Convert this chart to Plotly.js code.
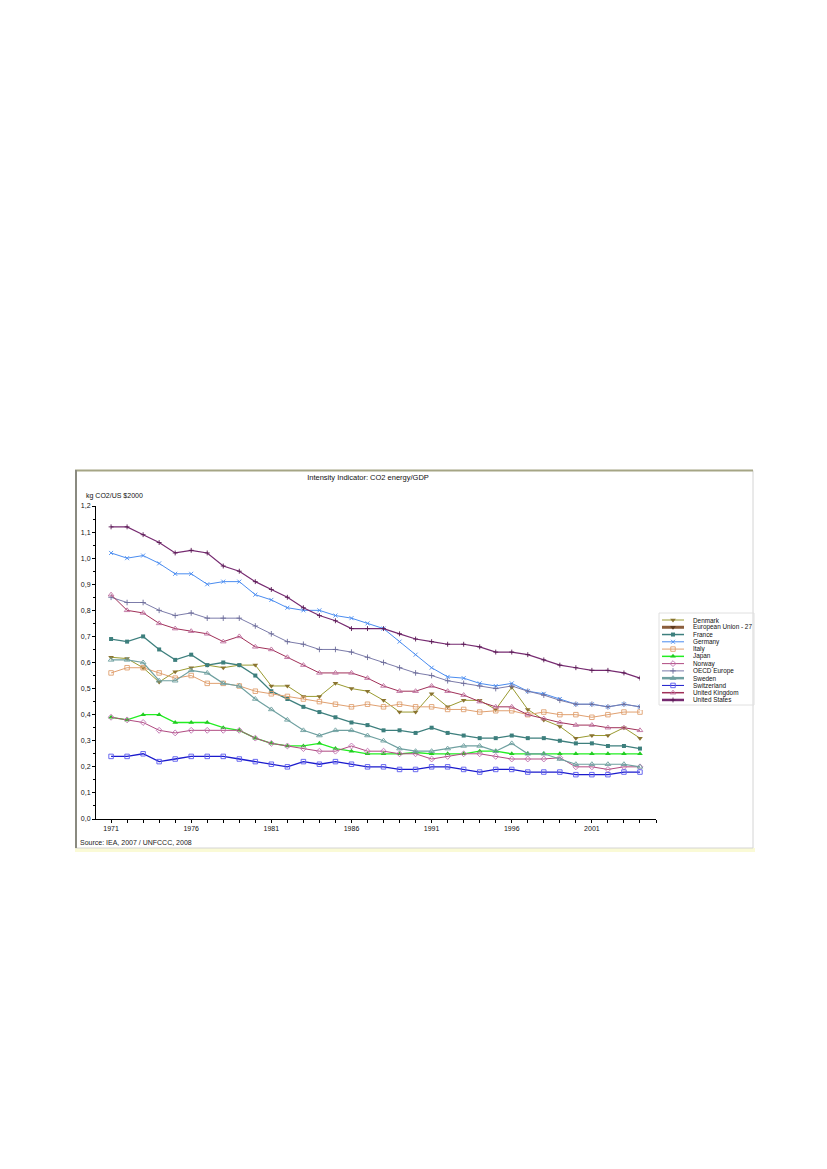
<!DOCTYPE html>
<html><head><meta charset="utf-8">
<script src="https://cdn.plot.ly/plotly-3.0.1.min.js"></script>
<style>html,body{margin:0;padding:0;background:#fff;} #chart{width:827px;height:1169px;}</style>
</head><body><div id="chart"></div>
<script>
// ---------------- DATA ----------------
const years = [1971,1972,1973,1974,1975,1976,1977,1978,1979,1980,
               1981,1982,1983,1984,1985,1986,1987,1988,1989,1990,
               1991,1992,1993,1994,1995,1996,1997,1998,1999,2000,
               2001,2002,2003,2004];
const xTickYears = [1971,1976,1981,1986,1991,1996,2001];
const xTickLabels = ['1971','1976','1981','1986','1991','1996','2001'];

const denmark = [0.62,0.615,0.58,0.525,0.565,0.58,0.59,0.58,0.59,0.59,
                 0.51,0.51,0.47,0.47,0.52,0.50,0.49,0.455,0.41,0.41,
                 0.48,0.43,0.455,0.455,0.42,0.505,0.42,0.38,0.355,0.31,
                 0.32,0.32,0.35,0.31];
const eu27 = [null,null,null,null,null,null,null,null,null,null,
              null,null,null,null,null,null,null,null,null,null,
              null,null,null,null,null,null,null,null,null,null,
              null,null,null,null];
const france = [0.69,0.68,0.70,0.65,0.61,0.63,0.59,0.60,0.59,0.55,
                0.49,0.46,0.43,0.41,0.39,0.37,0.36,0.34,0.34,0.33,
                0.35,0.33,0.32,0.31,0.31,0.32,0.31,0.31,0.30,0.29,
                0.29,0.28,0.28,0.27];
const germany = [1.02,1.00,1.01,0.98,0.94,0.94,0.90,0.91,0.91,0.86,
                 0.84,0.81,0.80,0.80,0.78,0.77,0.75,0.73,0.68,0.63,
                 0.58,0.545,0.54,0.52,0.51,0.52,0.49,0.48,0.46,0.44,
                 0.44,0.43,0.44,0.43];
const italy = [0.56,0.58,0.58,0.56,0.54,0.55,0.52,0.52,0.51,0.49,
               0.48,0.47,0.46,0.45,0.44,0.43,0.44,0.43,0.44,0.43,
               0.43,0.42,0.42,0.41,0.415,0.415,0.40,0.41,0.40,0.40,
               0.39,0.40,0.41,0.41];
const japan = [0.39,0.38,0.40,0.40,0.37,0.37,0.37,0.35,0.34,0.31,
               0.29,0.28,0.28,0.29,0.27,0.26,0.25,0.25,0.25,0.255,
               0.25,0.25,0.25,0.26,0.26,0.25,0.25,0.25,0.25,0.25,
               0.25,0.25,0.25,0.25];
const norway = [0.39,0.38,0.37,0.34,0.33,0.34,0.34,0.34,0.34,0.31,
                0.29,0.28,0.27,0.26,0.26,0.28,0.26,0.26,0.25,0.25,
                0.23,0.24,0.25,0.25,0.24,0.23,0.23,0.23,0.235,0.20,
                0.20,0.19,0.20,0.20];
const oecdEurope = [0.85,0.83,0.83,0.80,0.78,0.79,0.77,0.77,0.77,0.74,
                    0.71,0.68,0.67,0.65,0.65,0.64,0.62,0.60,0.58,0.56,
                    0.55,0.53,0.52,0.51,0.50,0.51,0.49,0.475,0.455,0.44,
                    0.44,0.43,0.44,0.43];
const sweden = [0.61,0.61,0.60,0.53,0.53,0.57,0.56,0.52,0.51,0.46,
                0.42,0.38,0.34,0.32,0.34,0.34,0.32,0.30,0.27,0.26,
                0.26,0.27,0.28,0.28,0.26,0.29,0.25,0.25,0.23,0.21,
                0.21,0.21,0.21,0.20];
const switzerland = [0.24,0.24,0.25,0.22,0.23,0.24,0.24,0.24,0.23,0.22,
                     0.21,0.20,0.22,0.21,0.22,0.21,0.20,0.20,0.19,0.19,
                     0.20,0.20,0.19,0.18,0.19,0.19,0.18,0.18,0.18,0.17,
                     0.17,0.17,0.18,0.18];
const unitedKingdom = [0.86,0.80,0.79,0.75,0.73,0.72,0.71,0.68,0.70,0.66,
                       0.65,0.62,0.59,0.56,0.56,0.56,0.54,0.51,0.49,0.49,
                       0.51,0.49,0.475,0.45,0.43,0.43,0.40,0.385,0.37,0.36,
                       0.36,0.35,0.35,0.34];
const unitedStates = [1.12,1.12,1.09,1.06,1.02,1.03,1.02,0.97,0.95,0.91,
                      0.88,0.85,0.81,0.78,0.76,0.73,0.73,0.73,0.71,0.69,
                      0.68,0.67,0.67,0.66,0.64,0.64,0.63,0.61,0.59,0.58,
                      0.57,0.57,0.56,0.54];

const seriesNames = ['Denmark','European Union - 27','France','Germany','Italy','Japan',
                     'Norway','OECD Europe','Sweden','Switzerland','United Kingdom','United States'];
const seriesValues = [denmark, eu27, france, germany, italy, japan,
                      norway, oecdEurope, sweden, switzerland, unitedKingdom, unitedStates];

// ---------------- STYLE ----------------
const styles = [
  {c:'#9a9a30', w:1,   sym:'triangle-down',    mc:'#8a7430', s:5,   lw:1},
  {c:'#8b5e3c', w:1.5, sym:'triangle-down',    mc:'#5e3a1e', s:5,   lw:3},
  {c:'#3d7f7d', w:1.3, sym:'square',           mc:'#3d7f7d', s:4,   lw:1.5},
  {c:'#4a8cf0', w:1,   sym:'x-thin',           mc:'#4a8cf0', s:4,   lw:1},
  {c:'#e0a070', w:1,   sym:'square-open',      mc:'#e0a070', s:4.5, lw:1},
  {c:'#22ee22', w:1.3, sym:'triangle-up',      mc:'#22cc22', s:5,   lw:1.5},
  {c:'#b04a80', w:1,   sym:'diamond-open',     mc:'#c070b0', s:4.5, lw:1},
  {c:'#7c7caa', w:1,   sym:'cross-thin',       mc:'#6c6c9a', s:4,   lw:1},
  {c:'#6fa0a0', w:1.2, sym:'triangle-up-open', mc:'#6fa0a0', s:5,   lw:2.5},
  {c:'#1a1acc', w:1.3, sym:'square-open',      mc:'#5a5aee', s:4.5, lw:1},
  {c:'#a03058', w:1,   sym:'triangle-up-open', mc:'#c070a0', s:5,   lw:1.5},
  {c:'#762a70', w:1.2, sym:'cross-thin',       mc:'#5a1a55', s:3.5, lw:2.5}
];
const FONT = 'Liberation Sans, Arial, sans-serif';
const openSym = s => /open|thin/.test(s);

// paper is the frame: x 75..755, y 470..852 (px)
const PX = x => (x - 75) / 680;
const PY = y => (852 - y) / 382;

function markerOf(st){
  return openSym(st.sym)
    ? {symbol:st.sym, size:st.s, color:st.mc, line:{color:st.mc, width:0.9}}
    : {symbol:st.sym, size:st.s, color:st.mc, line:{width:0}};
}

const traces = [];
seriesNames.forEach((name, i) => {
  const st = styles[i];
  traces.push({
    type:'scatter', mode:'lines+markers', name:name, x:years, y:seriesValues[i],
    xaxis:'x', yaxis:'y', showlegend:false,
    line:{color:st.c, width:st.w},
    marker:markerOf(st)
  });
});

// custom compact legend (drawn on its own pixel-scaled axes)
const annotations = [];
const legRow0 = 620, legStep = 7.27;
seriesNames.forEach((name, i) => {
  const st = styles[i];
  const ry = legRow0 + i * legStep;
  traces.push({type:'scatter', mode:'lines', x:[662,684], y:[ry,ry], xaxis:'x2', yaxis:'y2',
               showlegend:false, hoverinfo:'skip', line:{color:st.c, width:st.lw}});
  traces.push({type:'scatter', mode:'markers', x:[673], y:[ry], xaxis:'x2', yaxis:'y2',
               showlegend:false, hoverinfo:'skip', marker:markerOf(st)});
  annotations.push({xref:'x2', yref:'y2', x:691, y:ry, text:name, showarrow:false,
                    xanchor:'left', yanchor:'middle', font:{family:FONT, size:6.4, color:'#111'}});
});

annotations.push({xref:'paper', yref:'paper', x:PX(84), y:PY(496), text:'kg CO2/US $2000',
                  showarrow:false, xanchor:'left', yanchor:'middle', font:{family:FONT, size:7, color:'#111'}});
annotations.push({xref:'paper', yref:'paper', x:PX(78), y:PY(842), text:'Source: IEA, 2007 / UNFCCC, 2008',
                  showarrow:false, xanchor:'left', yanchor:'middle', font:{family:FONT, size:7, color:'#222'}});

const shapes = [
  {type:'rect', xref:'paper', yref:'paper', x0:PX(75), x1:PX(755), y0:PY(852), y1:PY(848),
   fillcolor:'#fafad6', line:{width:0}, layer:'below'},
  {type:'rect', xref:'paper', yref:'paper', x0:PX(75.5), x1:PX(753), y0:PY(848), y1:PY(470.5),
   line:{color:'#d4d4d4', width:1}},
  {type:'line', xref:'paper', yref:'paper', x0:PX(75), x1:PX(753), y0:PY(470.5), y1:PY(470.5),
   line:{color:'#a5a585', width:2}},
  {type:'line', xref:'paper', yref:'paper', x0:PX(76), x1:PX(76), y0:PY(470), y1:PY(848),
   line:{color:'#8a8a80', width:2}},
  {type:'rect', xref:'paper', yref:'paper', x0:PX(659), x1:PX(754), y0:PY(705), y1:PY(613),
   line:{color:'#e0e0e0', width:1}}
];

const layout = {
  width:827, height:1169,
  margin:{l:75, r:72, t:470, b:317, pad:0},
  paper_bgcolor:'#ffffff', plot_bgcolor:'#ffffff',
  separators:',.',
  showlegend:false,
  font:{family:FONT, size:7, color:'#111'},
  title:{text:'Intensity Indicator: CO2 energy/GDP', xref:'container', yref:'container',
         x:368/827, y:1 - 477/1169, xanchor:'center', yanchor:'middle',
         font:{family:FONT, size:7.5, color:'#111'}},
  xaxis:{domain:[PX(96), PX(656)], range:[1970.06, 2005.0], anchor:'y',
         tickmode:'array', tickvals:xTickYears, ticktext:xTickLabels,
         ticks:'outside', ticklen:3, tickwidth:1, tickcolor:'#000',
         minor:{dtick:1, tick0:1971, ticks:'outside', ticklen:3, tickcolor:'#000', showgrid:false},
         showline:true, linecolor:'#000', linewidth:1, showgrid:false, zeroline:false,
         tickfont:{family:FONT, size:7, color:'#111'}, fixedrange:true},
  yaxis:{domain:[PY(819), PY(506)], range:[0, 1.2], anchor:'x',
         tick0:0, dtick:0.1, tickformat:'.1f',
         ticks:'outside', ticklen:3, tickwidth:1, tickcolor:'#000',
         minor:{dtick:0.05, tick0:0, ticks:'outside', ticklen:2, tickcolor:'#000', showgrid:false},
         showline:true, linecolor:'#000', linewidth:1, showgrid:false, zeroline:false,
         tickfont:{family:FONT, size:7, color:'#111'}, fixedrange:true},
  xaxis2:{domain:[PX(640), PX(755)], range:[640, 755], anchor:'y2', visible:false, fixedrange:true},
  yaxis2:{domain:[PY(710), PY(600)], range:[710, 600], anchor:'x2', visible:false, fixedrange:true},
  shapes:shapes,
  annotations:annotations
};

Plotly.newPlot('chart', traces, layout, {displayModeBar:false, staticPlot:true});
</script>
</body></html>
